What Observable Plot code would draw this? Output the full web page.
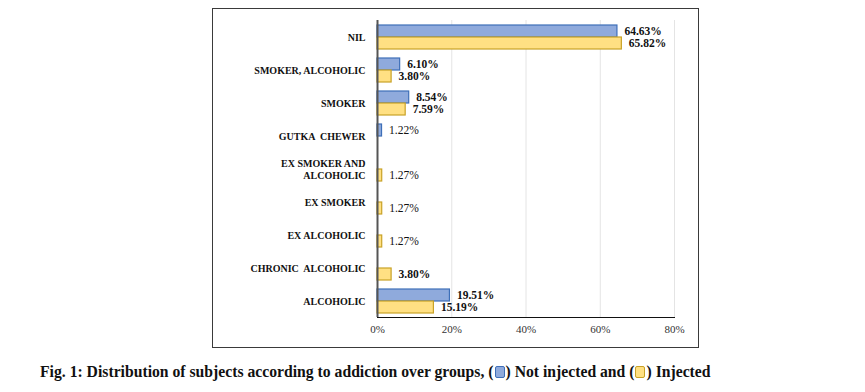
<!DOCTYPE html>
<html><head><meta charset="utf-8">
<script src="https://cdn.jsdelivr.net/npm/d3@7"></script>
<script src="https://cdn.jsdelivr.net/npm/@observablehq/plot@0.6"></script>
<style>
body{margin:0;background:#fff;}
#wrap{position:relative;width:865px;height:392px;overflow:hidden;}
#frame{position:absolute;left:212px;top:8px;width:487px;height:340px;border:1px solid #3a3a3a;box-sizing:border-box;pointer-events:none;}
#caption{position:absolute;left:40px;top:362px;font-family:"Liberation Serif","Times New Roman",serif;font-weight:bold;font-size:15.7px;line-height:19px;color:#111;white-space:nowrap;}
.sw{display:inline-block;width:8px;height:10px;border-radius:2px;vertical-align:-1px;margin:0 1px;}
</style></head>
<body><div id="wrap"><div id="chart"></div><div id="frame"></div>
<div id="caption">Fig. 1: Distribution of subjects according to addiction over groups, (<span class="sw" style="background:#8FAADC;border:1px solid #3E6FB8"></span>) Not injected and (<span class="sw" style="background:#FFE083;border:1px solid #C9A227"></span>) Injected</div>
</div>
<script>
const categories = ["NIL", "SMOKER, ALCOHOLIC", "SMOKER", "GUTKA  CHEWER", "EX SMOKER AND\nALCOHOLIC", "EX SMOKER", "EX ALCOHOLIC", "CHRONIC  ALCOHOLIC", "ALCOHOLIC"];
const series = ["Not injected", "Injected"];
const notInjected = [64.63, 6.10, 8.54, 1.22, null, null, null, null, 19.51];
const injected = [65.82, 3.80, 7.59, null, 1.27, 1.27, 1.27, 3.80, 15.19];
const xTicks = [0, 20, 40, 60, 80];

const rows = [];
categories.forEach((c, i) => {
  if (notInjected[i] != null) rows.push({category: c, group: series[0], value: notInjected[i]});
  if (injected[i] != null) rows.push({category: c, group: series[1], value: injected[i]});
});
const blueRows = rows.filter(d => d.group === series[0]);
const yellowRows = rows.filter(d => d.group === series[1]);
const label = d => d.value.toFixed(2) + "%";

const chart = Plot.plot({
  width: 865,
  height: 355,
  marginLeft: 377,
  marginRight: 191,
  marginTop: 18,
  marginBottom: 36,
  style: {fontFamily: "'Liberation Serif', 'Times New Roman', serif", background: "transparent", color: "#222"},
  x: {domain: [0, 80], label: null},
  fy: {domain: categories, padding: 0, label: null},
  y: {domain: series, axis: null, paddingInner: 0, paddingOuter: 0.285},
  marks: [
    Plot.gridX(xTicks, {stroke: "#e4e4e4", strokeOpacity: 1}),
    Plot.barX(blueRows, {fy: "category", y: "group", x: "value", fill: "#8FAADC", stroke: "#3E6FB8", strokeWidth: 1.2}),
    Plot.barX(yellowRows, {fy: "category", y: "group", x: "value", fill: "#FFE083", stroke: "#C9A227", strokeWidth: 1.2}),
    Plot.ruleX([0], {stroke: "#555", strokeWidth: 2}),
    Plot.text(rows.filter(d => d.value >= 2), {fy: "category", y: "group", x: "value", text: label, textAnchor: "start", dx: 7, fontSize: 11.5, fontWeight: "bold", fill: "#111"}),
    Plot.text(rows.filter(d => d.value < 2), {fy: "category", y: "group", x: "value", text: label, textAnchor: "start", dx: 7, fontSize: 11.5, fill: "#111"}),
    Plot.axisX({ticks: xTicks, tickFormat: d => d + "%", tickSize: 0, tickPadding: 8, fontSize: 11, label: null, fill: "#333"}),
    Plot.frame({anchor: "bottom", facetAnchor: "bottom", stroke: "#111"}),
    Plot.axisFy({anchor: "left", tickSize: 0, tickPadding: 12, fontSize: 10, fontWeight: "bold", lineHeight: 1.2, label: null, fill: "#111"})
  ]
});
document.getElementById("chart").appendChild(chart);
</script>
</body></html>
